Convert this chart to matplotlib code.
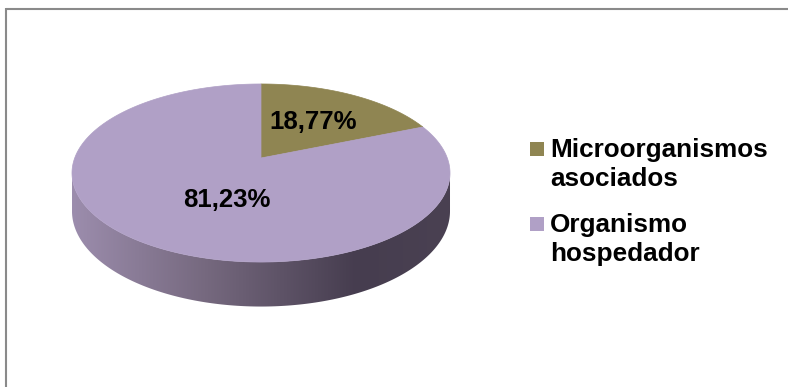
"""
Pie chart (3D look): microorganismos asociados vs organismo hospedador.
"""

import numpy as np
import matplotlib.pyplot as plt
from matplotlib.patches import Polygon, Rectangle
from matplotlib.colors import LinearSegmentedColormap

plt.rcParams['font.family'] = ['Liberation Sans', 'DejaVu Sans']

# Data
labels = ["Microorganismos\nasociados", "Organismo\nhospedador"]
values = [18.77, 81.23]
colors = ["#8F8552", "#B0A0C6"]
value_texts = ["18,77%", "81,23%"]

# Layout (pixels, figure is 788x387)
W, H = 788, 387
CX, CY = 261, 158      # projected centre of the disc
A, B = 186.3, 86.5     # radii before perspective
K = 0.1686             # perspective strength
DROP = 37.0            # thickness of the disc
label_pos = [(313, 122), (227, 200)]


def project(u, v, drop=0.0):
    """Perspective projection of a point on the unit disc to pixels."""
    s = 1 + K * v
    return CX + A * u / s, CY - B * v / s + drop / s


fig = plt.figure(figsize=(W / 100, H / 100), dpi=100)
ax = fig.add_axes([0, 0, 1, 1])

# Side of the disc (front arc between the silhouette tangent points)
th0 = np.arctan2(np.sqrt(1 - K ** 2), -K)   # rightmost tangent
th1 = 2 * np.pi - th0                       # leftmost tangent
th = np.linspace(th0, th1, 200)
top_x, top_y = project(np.sin(th), np.cos(th))
bot_x, bot_y = project(np.sin(th), np.cos(th), DROP)
side_pts = np.column_stack([np.r_[top_x, bot_x[::-1]],
                            np.r_[top_y, bot_y[::-1]]])
side = Polygon(side_pts, closed=True, facecolor='none', edgecolor='none')
ax.add_patch(side)

side_cmap = LinearSegmentedColormap.from_list(
    'side', [(0, '#9C8DAD'), (0.35, '#76697F'), (0.75, '#463D4F'), (1, '#4A4152')])
grad = np.linspace(0, 1, 256).reshape(1, -1)
im = ax.imshow(grad, cmap=side_cmap, aspect='auto',
               extent=[side_pts[:, 0].min(), side_pts[:, 0].max(),
                       side_pts[:, 1].max(), side_pts[:, 1].min()],
               interpolation='bilinear', zorder=1)
im.set_clip_path(side)

# Top face wedges, clockwise from 12 o'clock
start = 0.0
total = sum(values)
for val, col in zip(values, colors):
    ang = 2 * np.pi * val / total
    t = np.linspace(start, start + ang, 300)
    ex, ey = project(np.sin(t), np.cos(t))
    pts = np.column_stack([np.r_[CX, ex], np.r_[CY, ey]])
    ax.add_patch(Polygon(pts, closed=True, facecolor=col,
                         edgecolor=col, linewidth=0.5, zorder=2))
    start += ang

# Data labels
for txt, (x, y) in zip(value_texts, label_pos):
    ax.text(x, y, txt, ha='center', va='center', fontsize=18.5,
            fontweight='bold', color='black', zorder=3)

# Legend
leg_y = [157, 232]
for lab, col, y in zip(labels, colors, leg_y):
    ax.add_patch(Rectangle((530, y - 15), 14, 14, facecolor=col,
                           edgecolor='none', zorder=3))
    for i, line in enumerate(lab.split("\n")):
        ax.text(550, y + i * 29, line, ha='left', va='baseline',
                fontsize=18.8, fontweight='bold', color='black', zorder=3)

# Chart frame (top and left edges)
ax.plot([6, W], [8.5, 8.5], color='#8A8A8A', linewidth=1.5,
        solid_capstyle='butt', zorder=4)
ax.plot([6, 6], [8, H], color='#8A8A8A', linewidth=1.5,
        solid_capstyle='butt', zorder=4)

ax.set_xlim(0, W)
ax.set_ylim(H, 0)
ax.axis('off')

fig.savefig('out.png', dpi=100)
